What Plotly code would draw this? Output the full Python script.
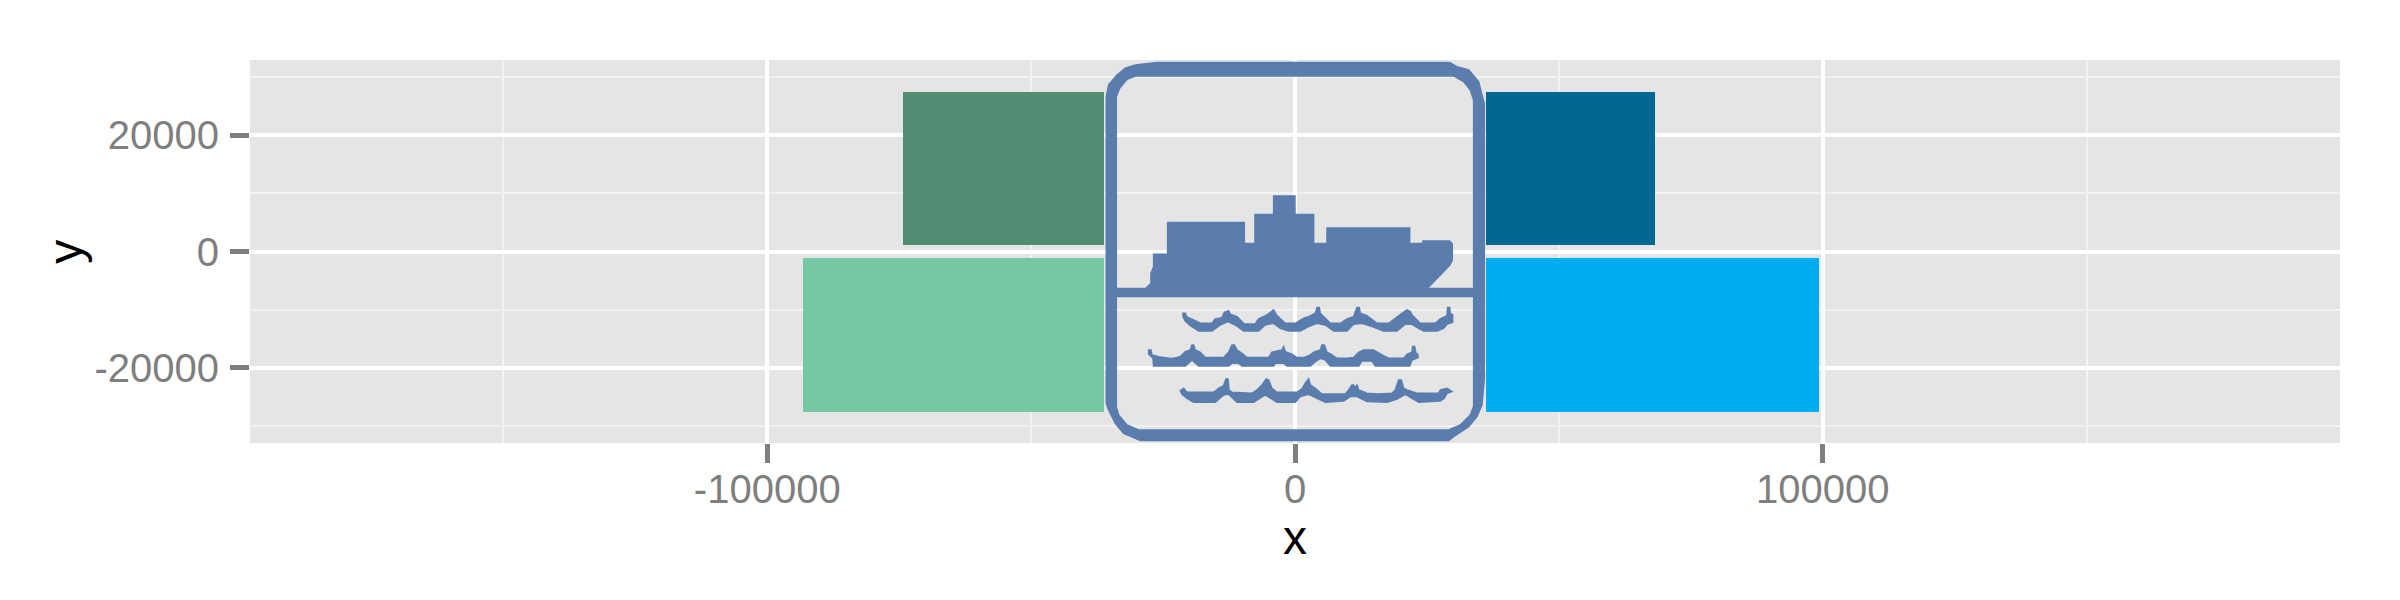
import plotly.graph_objects as go

# ---- data ----
rect_names = ["upper left", "lower left", "upper right", "lower right"]
rect_x_start = [-36250, -36250, 36250, 36250]
rect_x_end = [-74300, -93200, 68250, 99350]
rect_y_low = [1100, -27500, 1100, -27500]
rect_y_high = [27500, -1100, 27500, -1100]
rect_colors = ["#528C72", "#76C7A3", "#006892", "#00AEEF"]

x_tick_vals = [-100000, 0, 100000]
x_tick_text = ["-100000", "0", "100000"]
x_minor_vals = [-150000, -50000, 50000, 150000]
y_tick_vals = [-20000, 0, 20000]
y_tick_text = ["-20000", "0", "20000"]
y_minor_vals = [-30000, -10000, 10000, 30000]

# ---- pictogram outlines (artwork, in crop units, anchored at the data origin) ----
frame_outer = [(78,170),(85,135),(110,105),(135,85),(165,75),(230,68),(1108,68),(1130,80),(1165,90),(1195,125),
               (1205,165),(1212,190),(1212,1015),(1205,1095),(1190,1130),(1165,1160),(1120,1190),(1105,1202),
               (180,1202),(130,1180),(105,1150),(85,1110),(78,1090)]
frame_inner = [(108,170),(118,145),(140,118),(165,108),(1120,108),(1150,125),(1170,150),(1180,180),(1180,1100),
               (1170,1125),(1140,1155),(1105,1170),(175,1170),(140,1155),(115,1125),(108,1100)]
ship = [(108,746),(196,746),(212,730),(212,700),(220,680),(220,643),(262,643),(262,548),(492,548),(492,611),
        (524,611),(524,524),(580,524),(580,468),(644,468),(644,524),(700,524),(700,611),(740,611),(740,564),
        (988,564),(988,611),(1028,611),(1028,603),(1108,603),(1116,612),(1116,660),(1108,676),(1040,746),
        (1180,746),(1180,770),(108,770)]
wave1 = [(128,55),(135,55),(140,66),(160,75),(180,85),(215,85),(225,72),(245,68),(252,52),(265,47),(270,58),(290,65),
         (312,87),(345,87),(355,72),(380,60),(400,45),(410,62),(435,85),(465,85),(490,70),(505,65),(525,55),(530,38),
         (537,38),(540,55),(555,70),(570,85),(600,85),(620,72),(640,65),(650,38),(657,38),(660,55),(680,62),(710,85),
         (745,85),(765,70),(785,55),(800,45),(810,50),(815,60),(840,85),(885,85),(900,72),(920,62),(922,38),(928,38),
         (930,55),(937,60),(937,82),(920,88),(910,100),(890,108),(850,108),(835,100),(815,88),(795,88),(770,108),
         (730,108),(695,95),(665,85),(640,88),(620,108),(580,108),(555,90),(530,85),(505,95),(480,108),(445,108),
         (420,100),(400,85),(375,90),(355,108),(310,108),(285,90),(262,80),(240,90),(215,108),(175,108),(150,92),
         (135,78),(128,65)]
wave2 = [(25,165),(32,165),(35,180),(55,185),(85,190),(100,190),(120,185),(135,170),(150,165),(155,150),(160,150),
         (165,165),(180,172),(195,188),(250,188),(265,172),(275,150),(282,150),(290,165),(305,175),(320,188),(385,188),
         (395,172),(425,165),(430,155),(435,170),(455,178),(470,188),(490,188),(510,180),(520,172),(540,165),(545,150),
         (552,150),(560,172),(575,180),(590,190),(620,190),(640,188),(655,172),(670,165),(700,165),(725,180),(745,190),
         (790,190),(800,178),(815,172),(817,155),(823,155),(827,175),(833,178),(833,188),(815,195),(808,213),(705,213),
         (695,198),(665,198),(655,213),(570,213),(555,195),(540,190),(525,200),(510,213),(440,213),(430,205),(405,205),
         (400,213),(305,213),(295,205),(275,205),(265,213),(175,213),(155,195),(135,213),(40,213),(38,190),(25,178)]
wave3 = [(120,288),(130,280),(140,292),(220,292),(235,280),(250,272),(257,252),(263,252),(266,285),(275,292),(335,295),
         (350,285),(365,270),(378,252),(385,255),(395,280),(410,292),(470,292),(485,282),(497,262),(505,252),(510,270),
         (525,280),(545,297),(615,297),(625,285),(635,270),(640,270),(645,278),(650,270),(655,285),(680,295),(715,297),
         (755,295),(765,285),(775,255),(783,255),(790,280),(800,285),(830,295),(895,295),(900,285),(920,280),(935,290),
         (920,295),(912,310),(900,318),(835,322),(815,310),(795,298),(770,312),(740,322),(680,320),(650,305),(630,305),
         (610,318),(555,322),(530,310),(505,298),(480,305),(465,322),(410,322),(375,300),(340,322),(290,322),(265,298),
         (250,300),(225,322),(160,322),(140,310),(125,298)]

ICON = "#5A7DAE"
TICK = "#7F7F7F"
ORIGIN_X, ORIGIN_Y = 1294.7, 251.7


def sub(points, ox, oy, reverse=False):
    pts = list(reversed(points)) if reverse else points
    coords = [(ox + u / 3 - ORIGIN_X, ORIGIN_Y - (oy + v / 3)) for u, v in pts]
    return "M" + " L".join(f"{x:.2f},{y:.2f}" for x, y in coords) + " Z"


icon_path = " ".join([
    sub(frame_outer, 1080, 40),
    sub(frame_inner, 1080, 40, reverse=True),
    sub(ship, 1080, 40),
    sub(wave1, 1140, 295),
    sub(wave2, 1140, 295),
    sub(wave3, 1140, 295),
])

fig = go.Figure()
fig.add_trace(go.Bar(
    orientation="h",
    y=[(a + b) / 2 for a, b in zip(rect_y_low, rect_y_high)],
    width=[b - a for a, b in zip(rect_y_low, rect_y_high)],
    base=rect_x_start,
    x=[e - s for s, e in zip(rect_x_start, rect_x_end)],
    text=rect_names,
    textposition="none",
    marker=dict(color=rect_colors, line=dict(width=0)),
    hoverinfo="skip",
    showlegend=False,
))

fig.add_shape(
    type="path", path=icon_path, layer="above",
    xref="x", yref="y", xsizemode="pixel", ysizemode="pixel", xanchor=0, yanchor=0,
    fillcolor=ICON, line=dict(width=1.5, color=ICON),
)

axis_common = dict(
    tickmode="array", ticks="outside", ticklen=19, tickwidth=4.5, tickcolor=TICK,
    tickfont=dict(family="Liberation Sans", size=40, color=TICK),
    showgrid=True, gridcolor="#FFFFFF", gridwidth=4, zeroline=False, showline=False,
    title_font=dict(family="Liberation Sans", size=48, color="#000000"),
)
fig.update_xaxes(
    range=[-198000, 198000], tickvals=x_tick_vals, ticktext=x_tick_text, ticklabelstandoff=-8,
    minor=dict(tickmode="array", tickvals=x_minor_vals, showgrid=True, gridcolor="#F2F2F2", gridwidth=2, ticks=""),
    title_text="x", title_standoff=6, **axis_common,
)
fig.update_yaxes(
    range=[-32900, 32950], tickvals=y_tick_vals, ticktext=y_tick_text, ticklabelstandoff=3,
    minor=dict(tickmode="array", tickvals=y_minor_vals, showgrid=True, gridcolor="#F2F2F2", gridwidth=2, ticks=""),
    **axis_common,
)
fig.add_annotation(
    text="y", textangle=-90, showarrow=False,
    xref="paper", x=-184 / 2090, xanchor="center",
    yref="y", y=0, yanchor="middle",
    font=dict(family="Liberation Sans", size=48, color="#000000"),
)
fig.update_layout(
    width=2400, height=600, autosize=False,
    margin=dict(l=242, r=68, t=52, b=165, pad=0),
    paper_bgcolor="#FFFFFF", plot_bgcolor="#E5E5E5",
    bargap=0, showlegend=False,
)
fig.write_html("out.html")
